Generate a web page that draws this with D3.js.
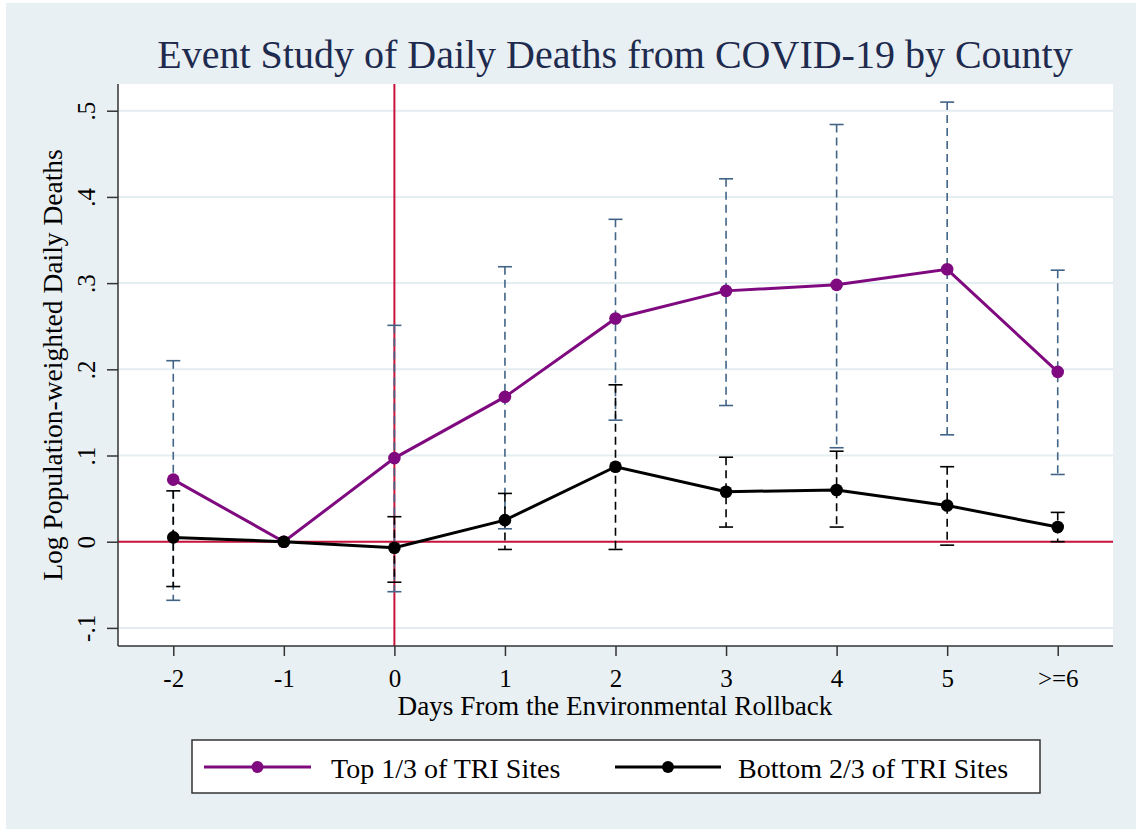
<!DOCTYPE html>
<html>
<head>
<meta charset="utf-8">
<script src="https://cdn.jsdelivr.net/npm/d3@7"></script>
<style>
  html, body { margin: 0; padding: 0; background: #ffffff; }
  svg { display: block; }
  text { font-family: "Liberation Serif", "Times New Roman", serif; }
</style>
</head>
<body>
<svg id="chart" width="1136" height="829"></svg>
<script>
// ---------------- data ----------------
const categories = ["-2", "-1", "0", "1", "2", "3", "4", "5", ">=6"];
const topEstimate = [0.072, 0.000, 0.097, 0.168, 0.259, 0.291, 0.298, 0.316, 0.197];
const topLower    = [-0.068, null, -0.058, 0.015, 0.141, 0.158, 0.109, 0.124, 0.078];
const topUpper    = [0.210, null, 0.251, 0.319, 0.374, 0.421, 0.484, 0.510, 0.315];
const bottomEstimate = [0.005, 0.000, -0.007, 0.025, 0.087, 0.058, 0.060, 0.042, 0.017];
const bottomLower    = [-0.052, null, -0.047, -0.009, -0.009, 0.017, 0.017, -0.004, 0.000];
const bottomUpper    = [0.059, null, 0.029, 0.056, 0.182, 0.098, 0.105, 0.087, 0.034];
const yTickValues = [-0.1, 0, 0.1, 0.2, 0.3, 0.4, 0.5];
const yTickLabels = ["-.1", "0", ".1", ".2", ".3", ".4", ".5"];
const seriesNames = ["Top 1/3 of TRI Sites", "Bottom 2/3 of TRI Sites"];
const titleText = "Event Study of Daily Deaths from COVID-19 by County";
const xTitle = "Days From the Environmental Rollback";
const yTitle = "Log Population-weighted Daily Deaths";
const eventCategory = "0";

// ---------------- styles ----------------
const C = {
  outer: "#e9f0f3", grid: "#e4edf0", axis: "#333333", red: "#c8143c",
  purple: "#7f0a7f", black: "#000000", ciBlue: "#426487", title: "#1e2b4e"
};

const svg = d3.select("#chart");
const plot = { left: 118, right: 1113, top: 84, bottom: 646 };

svg.append("rect").attr("x", 6).attr("y", 3).attr("width", 1130).attr("height", 826).attr("fill", C.outer);
svg.append("rect").attr("x", plot.left).attr("y", plot.top)
  .attr("width", plot.right - plot.left).attr("height", plot.bottom - plot.top).attr("fill", "#ffffff");

const x = d3.scalePoint().domain(categories).range([plot.left, plot.right]).padding(0.5);
const y = d3.scaleLinear().domain([-0.121, 0.531]).range([plot.bottom, plot.top]);

// grid
svg.append("g").selectAll("line").data(yTickValues).join("line")
  .attr("x1", plot.left).attr("x2", plot.right)
  .attr("y1", d => y(d)).attr("y2", d => y(d))
  .attr("stroke", C.grid).attr("stroke-width", 2);

// reference lines
svg.append("line").attr("x1", plot.left).attr("x2", plot.right)
  .attr("y1", y(0)).attr("y2", y(0)).attr("stroke", C.red).attr("stroke-width", 2);
svg.append("line").attr("x1", x(eventCategory)).attr("x2", x(eventCategory))
  .attr("y1", plot.top).attr("y2", plot.bottom).attr("stroke", C.red).attr("stroke-width", 2);

// CI bars
function drawCI(lower, upper, color) {
  const rows = categories.map((c, i) => ({ c, lo: lower[i], hi: upper[i] })).filter(d => d.lo !== null);
  const g = svg.append("g");
  g.selectAll("line.stem").data(rows).join("line").attr("class", "stem")
    .attr("x1", d => x(d.c)).attr("x2", d => x(d.c))
    .attr("y1", d => y(d.hi)).attr("y2", d => y(d.lo))
    .attr("stroke", color).attr("stroke-width", 1.6).attr("stroke-dasharray", "8,5");
  ["lo", "hi"].forEach(k => {
    g.selectAll("line.cap" + k).data(rows).join("line").attr("class", "cap" + k)
      .attr("x1", d => x(d.c) - 7).attr("x2", d => x(d.c) + 7)
      .attr("y1", d => y(d[k])).attr("y2", d => y(d[k]))
      .attr("stroke", color).attr("stroke-width", 1.6);
  });
}
drawCI(topLower, topUpper, C.ciBlue);
drawCI(bottomLower, bottomUpper, C.black);

// series
function drawSeries(vals, color) {
  const rows = categories.map((c, i) => ({ c, v: vals[i] }));
  svg.append("path").datum(rows)
    .attr("d", d3.line().x(d => x(d.c)).y(d => y(d.v)))
    .attr("fill", "none").attr("stroke", color).attr("stroke-width", 3);
  svg.append("g").selectAll("circle").data(rows).join("circle")
    .attr("cx", d => x(d.c)).attr("cy", d => y(d.v)).attr("r", 6.3).attr("fill", color);
}
drawSeries(topEstimate, C.purple);
drawSeries(bottomEstimate, C.black);

// axes
const yAxis = svg.append("g").attr("transform", `translate(${plot.left},0)`)
  .call(d3.axisLeft(y).tickValues(yTickValues).tickSize(11).tickFormat((d, i) => yTickLabels[i]).tickSizeOuter(0));
yAxis.select(".domain").attr("stroke", C.axis).attr("stroke-width", 1.5).attr("d", `M0,${plot.top}V${plot.bottom}`);
yAxis.selectAll(".tick line").attr("stroke", C.axis).attr("stroke-width", 1.5);
yAxis.selectAll(".tick text").attr("x", null).attr("dy", null)
  .attr("transform", "translate(-23,0) rotate(-90)")
  .attr("text-anchor", "middle").attr("font-size", 25).attr("fill", "#000")
  .style("font-family", '"Liberation Serif", serif');

const xAxis = svg.append("g").attr("transform", `translate(0,${plot.bottom})`)
  .call(d3.axisBottom(x).tickSize(10).tickSizeOuter(0));
xAxis.select(".domain").attr("stroke", C.axis).attr("stroke-width", 1.5).attr("d", `M${plot.left},0H${plot.right}`);
xAxis.selectAll(".tick line").attr("stroke", C.axis).attr("stroke-width", 1.5);
xAxis.selectAll(".tick text").attr("y", 41).attr("dy", null)
  .attr("font-size", 25).attr("fill", "#000")
  .style("font-family", '"Liberation Serif", serif');

// titles
svg.append("text").attr("x", 615).attr("y", 68).attr("text-anchor", "middle")
  .attr("font-size", 40).attr("fill", C.title).text(titleText);
svg.append("text").attr("x", 615).attr("y", 715).attr("text-anchor", "middle")
  .attr("font-size", 27.2).attr("fill", "#000").text(xTitle);
svg.append("text").attr("transform", `translate(62,365) rotate(-90)`).attr("text-anchor", "middle")
  .attr("font-size", 27.5).attr("fill", "#000").text(yTitle);

// legend
const lg = svg.append("g");
lg.append("rect").attr("x", 192).attr("y", 740).attr("width", 848).attr("height", 53)
  .attr("fill", "#fff").attr("stroke", "#333").attr("stroke-width", 1.5);
const legendItems = [
  { name: seriesNames[0], color: C.purple, x0: 204, x1: 311, tx: 331 },
  { name: seriesNames[1], color: C.black, x0: 615, x1: 721, tx: 738 }
];
legendItems.forEach(it => {
  lg.append("line").attr("x1", it.x0).attr("x2", it.x1).attr("y1", 767).attr("y2", 767)
    .attr("stroke", it.color).attr("stroke-width", 3);
  lg.append("circle").attr("cx", (it.x0 + it.x1) / 2).attr("cy", 767).attr("r", 6).attr("fill", it.color);
  lg.append("text").attr("x", it.tx).attr("y", 778).attr("font-size", 28).attr("fill", "#000").text(it.name);
});
</script>
</body>
</html>
